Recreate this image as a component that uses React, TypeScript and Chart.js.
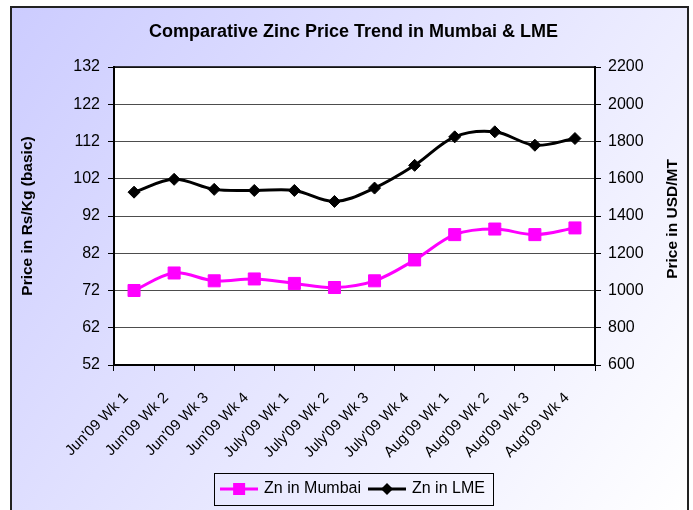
import React, { useEffect, useRef } from "react";
import { Chart, registerables } from "chart.js";

Chart.register(...registerables);

const chartTitle = "Comparative Zinc Price Trend in Mumbai & LME";
const weekLabels = [
  "Jun'09 Wk 1",
  "Jun'09 Wk 2",
  "Jun'09 Wk 3",
  "Jun'09 Wk 4",
  "July'09 Wk 1",
  "July'09 Wk 2",
  "July'09 Wk 3",
  "July'09 Wk 4",
  "Aug'09 Wk 1",
  "Aug'09 Wk 2",
  "Aug'09 Wk 3",
  "Aug'09 Wk 4",
];
const mumbaiPrices = [72, 76.7, 74.6, 75.1, 73.9, 72.8, 74.6, 80.2, 87, 88.5, 87, 88.8];
const lmePrices = [1528, 1597, 1543, 1537, 1537, 1478, 1550, 1672, 1825, 1852, 1780, 1816];
const leftTickValues = [52, 62, 72, 82, 92, 102, 112, 122, 132];
const rightTickValues = [600, 800, 1000, 1200, 1400, 1600, 1800, 2000, 2200];
const leftAxisTitle = "Price in Rs/Kg (basic)";
const rightAxisTitle = "Price in USD/MT";
const mumbaiName = "Zn in Mumbai";
const lmeName = "Zn in LME";

const FONT = "'Liberation Sans', Arial, sans-serif";

function makeLegendIcon(color: string, shape: "square" | "diamond") {
  const c = document.createElement("canvas");
  c.width = 38;
  c.height = 14;
  const ctx = c.getContext("2d")!;
  ctx.strokeStyle = color;
  ctx.lineWidth = 3;
  ctx.beginPath();
  ctx.moveTo(0, 7);
  ctx.lineTo(38, 7);
  ctx.stroke();
  ctx.fillStyle = color;
  if (shape === "square") {
    ctx.fillRect(13, 1, 12, 12);
  } else {
    ctx.beginPath();
    ctx.moveTo(19, 1);
    ctx.lineTo(25, 7);
    ctx.lineTo(19, 13);
    ctx.lineTo(13, 7);
    ctx.closePath();
    ctx.fill();
  }
  return c;
}

const framePlugin = {
  id: "framePlugin",
  beforeDraw(chart: any) {
    const { ctx, width, height, chartArea } = chart;
    ctx.save();
    ctx.fillStyle = "#ffffff";
    ctx.fillRect(0, 0, width, height);
    const g = ctx.createLinearGradient(11, 7, 688, 510);
    g.addColorStop(0, "#ccccff");
    g.addColorStop(1, "#ffffff");
    ctx.fillStyle = g;
    ctx.fillRect(11, 7, 677, height);
    ctx.strokeStyle = "#222222";
    ctx.lineWidth = 2;
    ctx.strokeRect(11, 7, 677, height + 10);
    ctx.fillStyle = "#ffffff";
    ctx.fillRect(chartArea.left, chartArea.top, chartArea.right - chartArea.left, chartArea.bottom - chartArea.top);
    ctx.restore();
  },
  afterDraw(chart: any) {
    const { ctx, chartArea, legend } = chart;
    ctx.save();
    ctx.strokeStyle = "#000000";
    ctx.lineWidth = 1.5;
    ctx.strokeRect(chartArea.left, chartArea.top, chartArea.right - chartArea.left, chartArea.bottom - chartArea.top);
    if (legend && legend.legendHitBoxes && legend.legendHitBoxes.length) {
      const hb = legend.legendHitBoxes;
      const first = hb[0];
      const last = hb[hb.length - 1];
      const l = first.left - 8;
      const r = last.left + last.width + 8;
      const t = first.top - 8;
      const b = first.top + first.height + 8;
      ctx.lineWidth = 1;
      ctx.strokeRect(Math.round(l) + 0.5, Math.round(t) + 0.5, Math.round(r - l), Math.round(b - t));
    }
    // right axis title, reading bottom to top
    ctx.translate(673, (chartArea.top + chartArea.bottom) / 2 + 3);
    ctx.rotate(-Math.PI / 2);
    ctx.fillStyle = "#000";
    ctx.font = "bold 15.5px " + FONT;
    ctx.textAlign = "center";
    ctx.textBaseline = "middle";
    ctx.fillText(rightAxisTitle, 0, 0);
    ctx.restore();
  },
};

export default function App() {
  const ref = useRef<HTMLCanvasElement>(null);

  useEffect(() => {
    document.body.style.margin = "0";
    const icons = [makeLegendIcon("#ff00ff", "square"), makeLegendIcon("#000000", "diamond")];
    const chart = new Chart(ref.current!, {
      type: "line",
      data: {
        labels: weekLabels,
        datasets: [
          {
            label: mumbaiName,
            data: mumbaiPrices,
            yAxisID: "y",
            borderColor: "#ff00ff",
            backgroundColor: "#ff00ff",
            borderWidth: 3,
            pointStyle: "rect",
            pointRadius: 8.5,
            pointBorderWidth: 1,
            pointBorderColor: "#ff00ff",
            pointBackgroundColor: "#ff00ff",
            tension: 0.35,
            fill: false,
          },
          {
            label: lmeName,
            data: lmePrices,
            yAxisID: "y1",
            borderColor: "#000000",
            backgroundColor: "#000000",
            borderWidth: 3,
            pointStyle: "rectRot",
            pointRadius: 6,
            pointBorderWidth: 1,
            pointBorderColor: "#000000",
            pointBackgroundColor: "#000000",
            tension: 0.35,
            fill: false,
          },
        ],
      },
      options: {
        responsive: false,
        animation: false,
        layout: { padding: { left: 14, right: 0, top: 0, bottom: 3 } },
        plugins: {
          title: {
            display: true,
            text: chartTitle,
            color: "#000",
            font: { family: FONT, size: 18, weight: "bold" },
            padding: { top: 21, bottom: 24.4 },
          },
          legend: {
            display: true,
            position: "bottom",
            labels: {
              color: "#000",
              font: { family: FONT, size: 16 },
              usePointStyle: true,
              pointStyleWidth: 34,
              padding: 9,
              generateLabels(c: any) {
                const items = (Chart.defaults as any).plugins.legend.labels.generateLabels(c);
                items.forEach((it: any, i: number) => {
                  it.pointStyle = icons[i];
                });
                return items;
              },
            },
          },
          tooltip: { enabled: false },
        },
        scales: {
          x: {
            type: "category",
            offset: true,
            grid: {
              offset: true,
              drawOnChartArea: false,
              drawTicks: true,
              tickLength: 6,
              tickColor: "#000",
            },
            border: { color: "#000", width: 2 },
            ticks: {
              color: "#000",
              font: { family: FONT, size: 15 },
              minRotation: 45,
              maxRotation: 45,
              autoSkip: false,
              padding: 18,
              labelOffset: -8,
            },
            afterFit(s: any) {
              s.height = 107;
            },
          },
          y: {
            position: "left",
            min: leftTickValues[0],
            max: leftTickValues[leftTickValues.length - 1],
            afterBuildTicks(s: any) {
              s.ticks = leftTickValues.map((v) => ({ value: v }));
            },
            grid: {
              color: "#4d4d4d",
              lineWidth: 1,
              tickLength: 6,
              tickColor: "#000",
            },
            border: { color: "#000", width: 2 },
            ticks: {
              color: "#000",
              font: { family: FONT, size: 16 },
              padding: 8,
              callback: (v: any) => String(v),
            },
            title: {
              display: true,
              text: leftAxisTitle,
              color: "#000",
              font: { family: FONT, size: 15.5, weight: "bold" },
              padding: { top: 4, bottom: 0 },
            },
            afterFit(s: any) {
              s.width = 100;
            },
          },
          y1: {
            position: "right",
            min: rightTickValues[0],
            max: rightTickValues[rightTickValues.length - 1],
            afterBuildTicks(s: any) {
              s.ticks = rightTickValues.map((v) => ({ value: v }));
            },
            grid: {
              drawOnChartArea: false,
              tickLength: 6,
              tickColor: "#000",
            },
            border: { color: "#000", width: 2 },
            ticks: {
              color: "#000",
              font: { family: FONT, size: 16 },
              padding: 7,
              callback: (v: any) => String(v),
            },
            title: { display: false },
            afterFit(s: any) {
              s.width = 98;
            },
          },
        },
      },
      plugins: [framePlugin],
    } as any);
    return () => chart.destroy();
  }, []);

  return <canvas ref={ref} width={693} height={510} style={{ display: "block" }} />;
}
